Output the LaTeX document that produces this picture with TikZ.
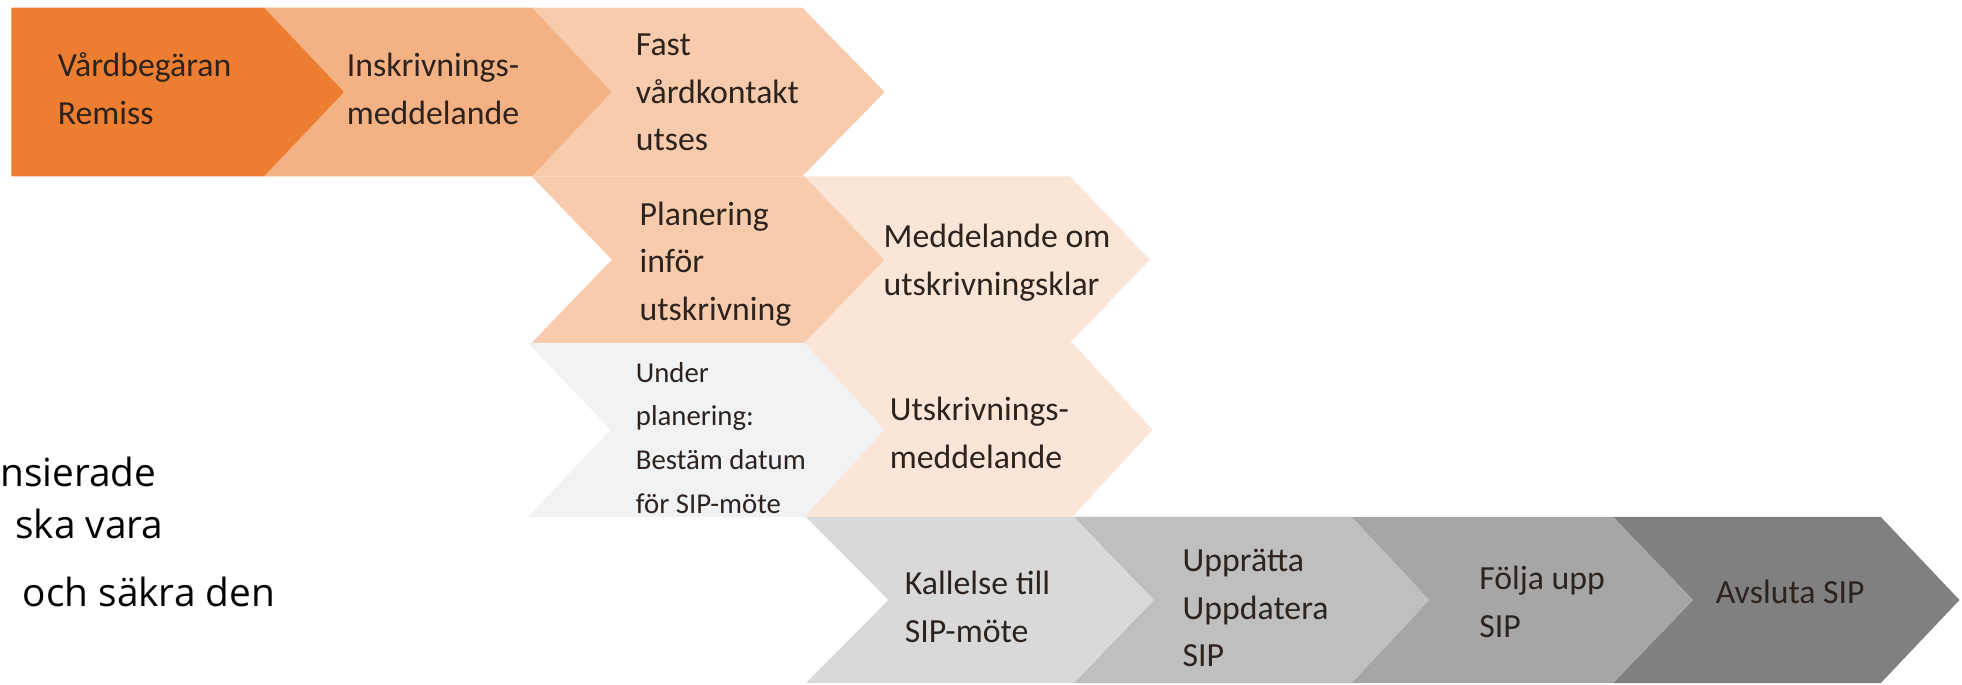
\documentclass[tikz,border=0pt]{standalone}
\usepackage{fontspec}
\setmainfont{Carlito}
\newfontfamily\segoe{Open Sans}
\definecolor{o1}{RGB}{237,125,49}
\definecolor{o2}{RGB}{244,177,131}
\definecolor{o3}{RGB}{248,203,173}
\definecolor{o4}{RGB}{251,229,214}
\definecolor{g0}{RGB}{241,242,244}
\definecolor{g1}{RGB}{217,217,217}
\definecolor{g2}{RGB}{191,191,191}
\definecolor{g3}{RGB}{166,166,166}
\definecolor{g4}{RGB}{128,128,128}
\definecolor{txt}{RGB}{45,35,30}
\newcommand{\chev}[7]{\fill[#1] (#2,#6) -- (#4,#6) -- (#5,{(#6+#7)/2}) -- (#4,#7) -- (#2,#7) -- (#3,{(#6+#7)/2}) -- cycle;}
\tikzset{
  lbl/.style={anchor=west, align=left, inner sep=0pt, text=txt, font=\fontsize{27}{38}\selectfont},
  small/.style={lbl, font=\fontsize{23}{35}\selectfont},
  side/.style={anchor=base west, inner sep=0pt, text=black, font=\segoe\fontsize{31}{38}\selectfont}
}
\begin{document}
\begin{tikzpicture}[x=1pt,y=-1pt]
\useasboundingbox (0,0) rectangle (1568,547);
\begin{scope}
\clip (0,0) rectangle (1568,547);
% row A
\chev{o3}{425}{489}{641}{707}{6}{141}
\chev{o2}{211}{275}{425}{489}{6}{141}
\chev{o1}{9}{9}{211}{275}{6}{141}
% row B
\chev{o3}{425}{489}{643}{707}{141}{274}
\chev{o4}{643}{707}{855}{919}{141}{274}
% row C
\chev{g0}{422}{488}{643}{707}{274}{413}
\chev{o4}{643}{707}{857}{921}{274}{413}
% row D
\chev{g4}{1289}{1353}{1503}{1566}{413}{546}
\chev{g3}{1080}{1142}{1289}{1353}{413}{546}
\chev{g2}{858}{922}{1080}{1142}{413}{546}
\chev{g1}{644}{710}{858}{922}{413}{546}
\end{scope}
\node[lbl] (t1) at (46,71) {Vårdbegäran\\Remiss};
\node[lbl] (t2) at (277,71) {Inskrivnings-\\meddelande};
\node[lbl] (t3) at (508,74) {Fast\\vårdkontakt\\utses};
\node[lbl] (t4) at (511,211) {Planering\\inför\\utskrivning};
\node[lbl] (t5) at (706,210) {Meddelande om\\utskrivningsklar};
\node[small] (t6) at (508,350) {Under\\planering:\\Bestäm datum\\för SIP-möte};
\node[lbl] (t7) at (711,346) {Utskrivnings-\\meddelande};
\node[lbl] (t8) at (723,485) {Kallelse till\\SIP-möte};
\node[lbl] (t9) at (945,486) {Upprätta\\Uppdatera\\SIP};
\node[lbl] (t10) at (1182,481) {Följa upp\\SIP};
\node[lbl] (t11) at (1371,473) {Avsluta SIP};
\node[side] (s1) at (0,389) {nsierade};
\node[side] (s2) at (12,430) {ska vara};
\node[side] (s3) at (18,485) {och säkra den};
\end{tikzpicture}
\end{document}
